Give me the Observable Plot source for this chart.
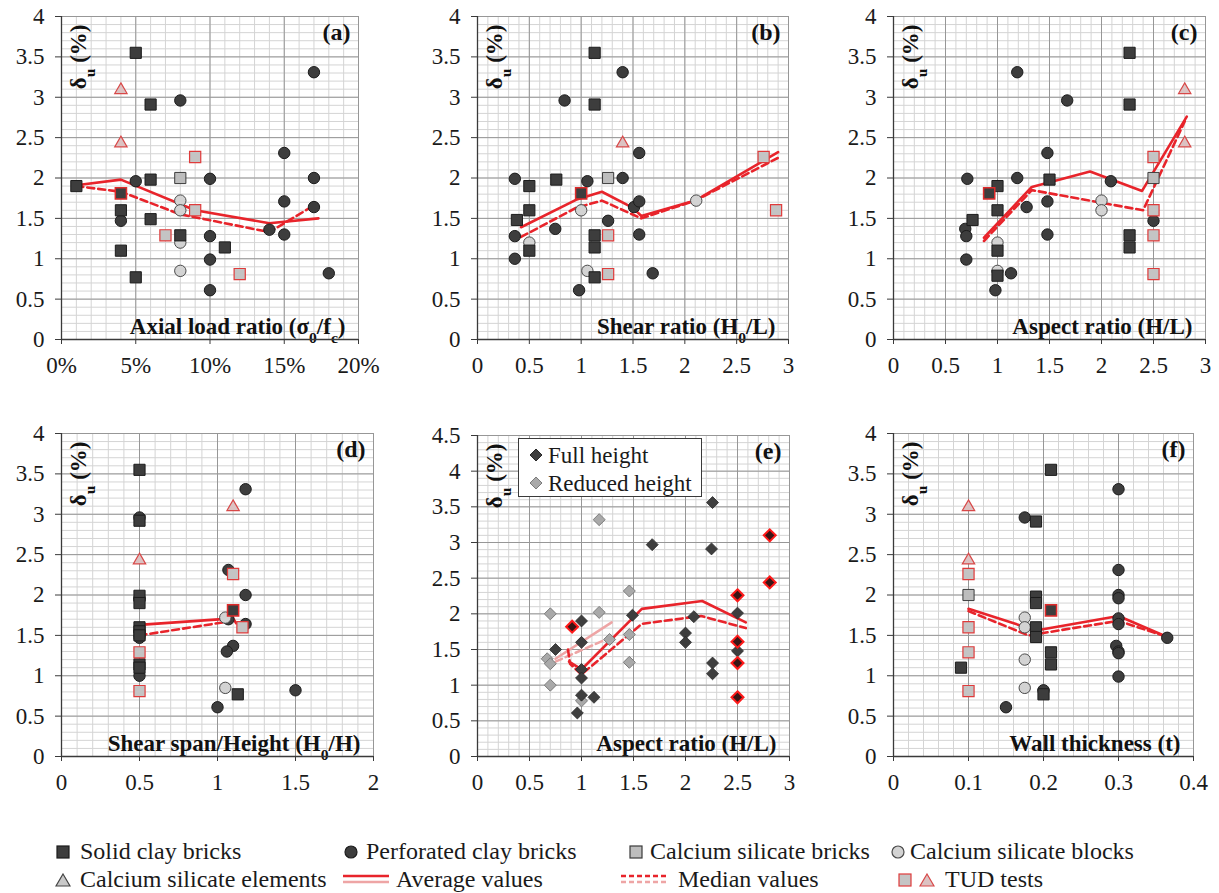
<!DOCTYPE html>
<html><head><meta charset="utf-8">
<script src="https://cdn.jsdelivr.net/npm/d3@7"></script>
<script src="https://cdn.jsdelivr.net/npm/@observablehq/plot@0.6"></script>
<style>
html,body{margin:0;padding:0;background:#fff;}
#root{position:relative;width:1219px;height:893px;overflow:hidden;font-family:"Liberation Serif","Tinos","DejaVu Serif","Times New Roman",Times,serif;color:#1a1a1a;}
.panel{position:absolute;}
.panel svg{overflow:visible;max-width:none !important;}
.leg{position:absolute;font-size:24px;line-height:26px;white-space:nowrap;}
.sw{position:absolute;display:block;}
.elegend{position:absolute;left:518px;top:438px;width:182px;height:57px;border:1.5px solid #3a3a3a;background:#fff;font-size:23px;}
.elegend span{position:absolute;left:29px;line-height:24px;white-space:nowrap;}
</style></head>
<body><div id="root"></div>
<script>
// ---------------- DATA ----------------
const yTicks4 = [0, 0.5, 1, 1.5, 2, 2.5, 3, 3.5, 4];
const yTicks45 = [0, 0.5, 1, 1.5, 2, 2.5, 3, 3.5, 4, 4.5];
const xTicksA = [0, 5, 10, 15, 20];
const xTicks3 = [0, 0.5, 1, 1.5, 2, 2.5, 3];
const xTicks2 = [0, 0.5, 1, 1.5, 2];
const xTicksF = [0, 0.1, 0.2, 0.3, 0.4];

// (a) Axial load ratio (%)
const a_perf = [[4,1.47],[5,1.96],[8,2.96],[10,1.99],[10,1.28],[10,0.99],[10,0.61],[14,1.36],[15,2.31],[15,1.71],[15,1.3],[17,3.31],[17,2.0],[17,1.64],[18,0.82]];
const a_csBlocks = [[8,1.72],[8,1.6],[8,1.2],[8,0.85]];
const a_solid = [[1,1.9],[4,1.6],[4,1.1],[5,3.55],[5,0.77],[6,2.91],[6,1.98],[6,1.49],[8,1.29],[11,1.14]];
const a_csBricks = [[8,2.0]];
const a_tudSq = [[7,1.29],[9,2.26],[9,1.6],[12,0.81]];
const a_tudSolid = [[4,1.81]];
const a_tudTri = [[4,3.09],[4,2.43]];
const a_avg = [[1,1.91],[4,1.98],[9,1.6],[14,1.44],[17.3,1.5]];
const a_med = [[1,1.9],[4,1.83],[8,1.55],[14,1.33],[17,1.66]];

// (b) Shear ratio
const b_perf = [[0.36,1.99],[0.36,1.28],[0.36,1.0],[0.84,2.96],[0.75,1.37],[1.06,1.96],[0.98,0.61],[1.26,1.47],[1.4,3.31],[1.4,2.0],[1.51,1.64],[1.56,2.31],[1.56,1.71],[1.56,1.3],[1.69,0.82]];
const b_csBlocks = [[0.5,1.2],[1.0,1.6],[1.06,0.85],[2.11,1.72]];
const b_solid = [[0.38,1.48],[0.5,1.9],[0.5,1.6],[0.5,1.1],[0.76,1.98],[1.13,3.55],[1.13,2.91],[1.13,1.29],[1.13,1.14],[1.13,0.77]];
const b_csBricks = [[1.26,2.0]];
const b_tudSq = [[1.26,1.29],[1.26,0.81],[2.76,2.26],[2.88,1.6]];
const b_tudSolid = [[1.0,1.81]];
const b_tudTri = [[1.4,2.43]];
const b_avg = [[0.42,1.39],[0.95,1.73],[1.2,1.83],[1.5,1.63],[1.58,1.53],[2.1,1.72],[2.9,2.32]];
const b_med = [[0.42,1.27],[0.95,1.63],[1.2,1.72],[1.58,1.5],[2.1,1.72],[2.9,2.25]];

// (c) Aspect ratio
const c_perf = [[0.71,1.99],[0.69,1.37],[0.7,1.28],[0.7,0.99],[0.98,0.61],[1.19,3.31],[1.19,2.0],[1.13,0.82],[1.28,1.64],[1.48,2.31],[1.48,1.71],[1.48,1.3],[1.67,2.96],[2.09,1.96],[2.5,1.47]];
const c_csBlocks = [[1.0,1.2],[1.0,0.85],[2.0,1.72],[2.0,1.6]];
const c_solid = [[1.0,1.9],[1.0,1.6],[1.0,1.1],[1.0,0.79],[0.76,1.48],[1.5,1.98],[2.27,3.55],[2.27,2.91],[2.27,1.29],[2.27,1.14]];
const c_csBricks = [[2.5,2.0]];
const c_tudSq = [[2.5,2.26],[2.5,1.6],[2.5,1.29],[2.5,0.81]];
const c_tudSolid = [[0.92,1.81]];
const c_tudTri = [[2.8,3.09],[2.8,2.43]];
const c_avg = [[0.87,1.26],[1.33,1.89],[1.89,2.08],[2.39,1.84],[2.82,2.76]];
const c_med = [[0.87,1.22],[1.33,1.85],[2.4,1.6],[2.8,2.7]];

// (d) Shear span / Height
const d_perf = [[0.5,2.96],[0.5,1.96],[0.5,1.47],[0.5,1.0],[1.07,2.31],[1.18,3.31],[1.18,2.0],[1.18,1.64],[1.07,1.7],[1.1,1.37],[1.06,1.3],[1.0,0.61],[1.5,0.82]];
const d_csBlocks = [[1.05,1.72],[1.05,0.85]];
const d_solid = [[0.5,3.55],[0.5,2.92],[0.5,1.99],[0.5,1.9],[0.5,1.6],[0.5,1.55],[0.5,1.5],[0.5,1.14],[0.5,1.1],[1.13,0.77]];
const d_csBricks = [];
const d_tudSq = [[0.5,1.29],[0.5,0.81],[1.1,2.26],[1.16,1.6]];
const d_tudSolid = [[1.1,1.81]];
const d_tudTri = [[0.5,2.43],[1.1,3.09]];
const d_avg = [[0.5,1.63],[1.1,1.71],[1.12,1.65]];
const d_med = [[0.5,1.5],[1.1,1.68]];

// (e) Aspect ratio, full vs reduced height
const e_full = [[0.75,1.5],[1.0,1.9],[1.0,1.6],[1.0,1.22],[1.0,1.1],[1.0,0.86],[0.96,0.61],[1.12,0.83],[1.49,1.98],[1.68,2.97],[2.0,1.73],[2.0,1.6],[2.08,1.96],[2.26,3.56],[2.25,2.91],[2.26,1.31],[2.26,1.16],[2.5,2.01],[2.5,1.48]];
const e_reduced = [[0.7,2.0],[0.67,1.37],[0.7,1.3],[0.7,1.0],[1.0,0.78],[1.17,3.32],[1.17,2.02],[1.27,1.64],[1.46,2.32],[1.46,1.71],[1.46,1.32]];
const e_tud = [[0.91,1.82],[2.5,2.26],[2.5,1.61],[2.5,1.31],[2.5,0.83],[2.81,3.1],[2.81,2.44]];
const e_avg = [[0.88,1.33],[1.0,1.22],[1.58,2.07],[2.16,2.18],[2.58,1.88]];
const e_med = [[0.87,1.5],[0.89,1.3],[1.0,1.15],[1.58,1.86],[2.15,1.97],[2.58,1.8]];
const e_avgReduced = [[0.75,1.37],[1.29,1.88]];
const e_medReduced = [[0.75,1.33],[1.28,1.67]];

// (f) Wall thickness
const f_perf = [[0.175,2.96],[0.15,0.61],[0.2,0.82],[0.3,3.31],[0.3,2.31],[0.3,2.0],[0.3,1.96],[0.3,1.71],[0.3,1.64],[0.297,1.37],[0.3,1.3],[0.3,1.28],[0.3,0.99],[0.365,1.47]];
const f_csBlocks = [[0.175,1.72],[0.175,1.6],[0.175,1.2],[0.175,0.85]];
const f_solid = [[0.09,1.1],[0.19,2.91],[0.19,1.98],[0.19,1.9],[0.19,1.6],[0.19,1.48],[0.21,3.55],[0.21,1.29],[0.21,1.14],[0.2,0.77]];
const f_csBricks = [[0.1,2.0]];
const f_tudSq = [[0.1,2.26],[0.1,1.6],[0.1,1.29],[0.1,0.81]];
const f_tudSolid = [[0.21,1.81]];
const f_tudTri = [[0.1,3.09],[0.1,2.43]];
const f_avg = [[0.1,1.83],[0.19,1.56],[0.3,1.74],[0.365,1.48]];
const f_med = [[0.1,1.8],[0.18,1.5],[0.3,1.68],[0.365,1.48]];

// ---------------- STYLE ----------------
const FONT = '"Liberation Serif","Tinos","DejaVu Serif","Times New Roman",Times,serif';
const RED = "#e8242b", PINK = "#eea5a5";
const DARK = "#3d3d3d", DARKS = "#1c1c1c";
const NS = "http://www.w3.org/2000/svg";
const X = d => d[0], Y = d => d[1];

const S = {
  perf:     {symbol:"circle", r:5.7, fill:DARK, stroke:DARKS, strokeWidth:1},
  csBlocks: {symbol:"circle", r:5.7, fill:"#d3d3d3", stroke:"#4a4a4a", strokeWidth:1},
  solid:    {symbol:"square", r:6.3, fill:DARK, stroke:DARKS, strokeWidth:1},
  csBricks: {symbol:"square", r:6.3, fill:"#bdbdbd", stroke:"#3a3a3a", strokeWidth:1},
  tudSq:    {symbol:"square", r:6.3, fill:"#c4c4c4", stroke:"#df3b3b", strokeWidth:1.2},
  tudSolid: {symbol:"square", r:6.3, fill:DARK, stroke:"#e02a2a", strokeWidth:1.5},
  tudTri:   {symbol:"triangle", r:4.6, fill:"#dcc2c2", stroke:"#d84848", strokeWidth:1.2},
  full:     {symbol:"diamond2", r:5.4, fill:"#3e3e3e", stroke:"#2a2a2a", strokeWidth:0.8},
  reduced:  {symbol:"diamond2", r:5.4, fill:"#a9a9a9", stroke:"#7c7c7c", strokeWidth:1},
  tudDia:   {symbol:"diamond2", r:5.4, fill:"#3a1616", stroke:"#ff1a1a", strokeWidth:2}
};

const panels = [
  {id:"a", L:0,   T:0,   ml:61, mt:16, pw:297, ph:323, xd:[0,20], yd:[0,4], xt:xTicksA, yt:yTicks4, minor:1, fmt:d=>d+"%",
   xlabel:"Axial load ratio (σ_0/f_c)", letter:"(a)",
   dots:[["perf",a_perf],["csBlocks",a_csBlocks],["solid",a_solid],["csBricks",a_csBricks],["tudSq",a_tudSq],["tudSolid",a_tudSolid],["tudTri",a_tudTri]],
   avg:a_avg, med:a_med},
  {id:"b", L:400, T:0,   ml:77, mt:16, pw:311, ph:323, xd:[0,3], yd:[0,4], xt:xTicks3, yt:yTicks4, minor:0.1, fmt:d=>String(d),
   xlabel:"Shear ratio (H_0/L)", letter:"(b)",
   dots:[["perf",b_perf],["csBlocks",b_csBlocks],["solid",b_solid],["csBricks",b_csBricks],["tudSq",b_tudSq],["tudSolid",b_tudSolid],["tudTri",b_tudTri]],
   avg:b_avg, med:b_med},
  {id:"c", L:810, T:0,   ml:83, mt:16, pw:312, ph:323, xd:[0,3], yd:[0,4], xt:xTicks3, yt:yTicks4, minor:0.1, fmt:d=>String(d),
   xlabel:"Aspect ratio (H/L)", letter:"(c)",
   dots:[["perf",c_perf],["csBlocks",c_csBlocks],["solid",c_solid],["csBricks",c_csBricks],["tudSq",c_tudSq],["tudSolid",c_tudSolid],["tudTri",c_tudTri]],
   avg:c_avg, med:c_med},
  {id:"d", L:0,   T:400, ml:61, mt:33, pw:312, ph:323, xd:[0,2], yd:[0,4], xt:xTicks2, yt:yTicks4, minor:0.1, fmt:d=>String(d),
   xlabel:"Shear span/Height (H_0/H)", letter:"(d)",
   dots:[["perf",d_perf],["csBlocks",d_csBlocks],["solid",d_solid],["csBricks",d_csBricks],["tudSq",d_tudSq],["tudSolid",d_tudSolid],["tudTri",d_tudTri]],
   avg:d_avg, med:d_med},
  {id:"e", L:400, T:400, ml:77, mt:35, pw:312, ph:321, xd:[0,3], yd:[0,4.5], xt:xTicks3, yt:yTicks45, minor:0.1, fmt:d=>String(d),
   xlabel:"Aspect ratio (H/L)", letter:"(e)",
   dots:[["reduced",e_reduced],["full",e_full],["tudDia",e_tud]],
   avg:e_avg, med:e_med, avg2:e_avgReduced, med2:e_medReduced},
  {id:"f", L:810, T:400, ml:83, mt:33, pw:300, ph:323, xd:[0,0.4], yd:[0,4], xt:xTicksF, yt:yTicks4, minor:0.02, fmt:d=>String(d),
   xlabel:"Wall thickness (t)", letter:"(f)",
   dots:[["perf",f_perf],["csBlocks",f_csBlocks],["solid",f_solid],["csBricks",f_csBricks],["tudSq",f_tudSq],["tudSolid",f_tudSolid],["tudTri",f_tudTri]],
   avg:f_avg, med:f_med}
];

function subscriptify(t) {
  const s = t.textContent;
  if (!s.includes("_")) return;
  t.textContent = "";
  s.split(/_(.)/).forEach((part, i) => {
    if (!part) return;
    const ts = document.createElementNS(NS, "tspan");
    ts.textContent = part;
    if (i % 2 === 1) { ts.setAttribute("baseline-shift", "sub"); ts.setAttribute("font-size", "68%"); }
    t.appendChild(ts);
  });
}

function addBox(svg, label, corner, p) {
  const g = svg.querySelector(`g[aria-label="${label}"]`);
  if (!g) return;
  const t = g.querySelector("text");
  const sb = svg.getBoundingClientRect(), tb = t.getBoundingClientRect();
  const l = tb.left - sb.left, r = tb.right - sb.left, tp = tb.top - sb.top, bt = tb.bottom - sb.top;
  const fl = p.ml, fr = p.ml + p.pw, ft = p.mt, fb = p.mt + p.ph;
  let x0, x1, y0, y1;
  if (corner === "br") { x0 = l - 6; x1 = fr; y0 = tp + 3; y1 = fb; }
  else if (corner === "tl") { x0 = fl; x1 = r + 5; y0 = ft; y1 = bt + 4; }
  else { x0 = l - 6; x1 = fr; y0 = ft; y1 = bt + 2; }
  const rect = document.createElementNS(NS, "rect");
  rect.setAttribute("x", x0); rect.setAttribute("y", y0);
  rect.setAttribute("width", x1 - x0); rect.setAttribute("height", y1 - y0);
  rect.setAttribute("fill", "#fff");
  svg.insertBefore(rect, g);
}

const root = document.getElementById("root");

for (const p of panels) {
  const mr = 30, mb = 45;
  const W = p.ml + p.pw + mr, H = p.mt + p.ph + mb;
  const minorX = d3.range(0, Math.round((p.xd[1] - p.xd[0]) / p.minor) + 1).map(i => p.xd[0] + i * p.minor);
  const minorY = d3.range(0, Math.round(p.yd[1] / 0.1) + 1).map(i => i * 0.1);
  const lab = {fontFamily: FONT, fontSize: 23, fontWeight: "bold", fill: "#111", text: d => d};
  const marks = [
    Plot.ruleX(minorX, {stroke: "#d4d4d4", strokeWidth: 1}),
    Plot.ruleY(minorY, {stroke: "#d4d4d4", strokeWidth: 1}),
    Plot.ruleX(p.xt, {stroke: "#979797", strokeWidth: 1}),
    Plot.ruleY(p.yt, {stroke: "#979797", strokeWidth: 1}),
    Plot.text([p.xlabel], {...lab, ariaLabel: "xlabel", frameAnchor: "bottom-right", textAnchor: "end", lineAnchor: "bottom", dx: -13, dy: -6}),
    Plot.text(["δ_u (%)"], {...lab, ariaLabel: "ylabel", frameAnchor: "top-left", rotate: -90, textAnchor: "end", lineAnchor: "middle", dx: 17, dy: 8}),
    Plot.text([p.letter], {...lab, fontSize: 24, ariaLabel: "letter", frameAnchor: "top-right", textAnchor: "end", lineAnchor: "top", dx: -8, dy: 6}),
    Plot.frame({stroke: "#979797"}),
    Plot.ruleX([p.xd[0]], {stroke: "#3a3a3a", strokeWidth: 1.3}),
    Plot.ruleY([0], {stroke: "#3a3a3a", strokeWidth: 1.3})
  ];
  if (p.avg2) {
    marks.push(Plot.line(p.avg2, {x: X, y: Y, stroke: PINK, strokeWidth: 2.5}));
    marks.push(Plot.line(p.med2, {x: X, y: Y, stroke: PINK, strokeWidth: 2.5, strokeDasharray: "7,4"}));
  }
  marks.push(Plot.line(p.avg, {x: X, y: Y, stroke: RED, strokeWidth: 2.6}));
  marks.push(Plot.line(p.med, {x: X, y: Y, stroke: RED, strokeWidth: 2.6, strokeDasharray: "7,4"}));
  for (const [k, data] of p.dots) {
    if (data.length) marks.push(Plot.dot(data, {x: X, y: Y, ...S[k]}));
  }
  marks.push(Plot.axisX(p.xt, {tickSize: 5, tickPadding: 12, tickFormat: p.fmt, label: null, fontSize: 23, fontFamily: FONT, stroke: "#3a3a3a"}));
  marks.push(Plot.axisY(p.yt, {tickSize: 6, tickPadding: 11, tickFormat: d => String(d), label: null, fontSize: 23, fontFamily: FONT, stroke: "#3a3a3a"}));

  const svg = Plot.plot({
    width: W, height: H,
    marginLeft: p.ml, marginTop: p.mt, marginRight: mr, marginBottom: mb,
    x: {domain: p.xd}, y: {domain: p.yd},
    style: {fontSize: "23px", color: "#1a1a1a", background: "transparent", overflow: "visible", maxWidth: "none"},
    marks
  });
  svg.style.fontFamily = FONT;
  svg.style.maxWidth = "none";
  svg.style.width = W + "px";
  svg.style.height = H + "px";
  const div = document.createElement("div");
  div.className = "panel";
  div.style.left = p.L + "px"; div.style.top = p.T + "px";
  div.style.width = W + "px"; div.style.height = H + "px";
  div.appendChild(svg);
  root.appendChild(div);
  svg.querySelectorAll("text").forEach(t => { t.style.fontFamily = FONT; subscriptify(t); });
  addBox(svg, "xlabel", "br", p);
  addBox(svg, "ylabel", "tl", p);
  addBox(svg, "letter", "tr", p);
}

// legend inside panel (e)
const diamond = (fill, stroke) => `<svg class="sw" width="14" height="14" style="left:10px;top:-1px"><path d="M7 1 L13 7 L7 13 L1 7 Z" fill="${fill}" stroke="${stroke}"/></svg>`;
const eleg = document.createElement("div");
eleg.className = "elegend";
eleg.innerHTML =
  `<div style="position:absolute;top:10px;left:0;width:100%;height:14px">${diamond("#3e3e3e","#2a2a2a")}</div><span style="top:5px">Full height</span>` +
  `<div style="position:absolute;top:38px;left:0;width:100%;height:14px">${diamond("#a9a9a9","#7c7c7c")}</div><span style="top:33px">Reduced height</span>`;
root.appendChild(eleg);

// bottom legend
const sq = (f, s) => `<svg class="sw" width="14" height="14"><rect x="1" y="1" width="12" height="12" fill="${f}" stroke="${s}" stroke-width="1.2"/></svg>`;
const ci = (f, s) => `<svg class="sw" width="14" height="14"><circle cx="7" cy="7" r="6" fill="${f}" stroke="${s}" stroke-width="1.2"/></svg>`;
const tri = (f, s) => `<svg class="sw" width="16" height="14"><path d="M8 1 L15 13 L1 13 Z" fill="${f}" stroke="${s}" stroke-width="1.2"/></svg>`;
const lines = dash => `<svg class="sw" width="48" height="12"><line x1="1" x2="47" y1="3" y2="3" stroke="${RED}" stroke-width="2.6" ${dash ? 'stroke-dasharray="5,3"' : ""}/><line x1="1" x2="47" y1="9" y2="9" stroke="${PINK}" stroke-width="2.6" ${dash ? 'stroke-dasharray="5,3"' : ""}/></svg>`;
const legendItems = [
  {sw: sq(DARK, DARKS), sx: 56, text: "Solid clay bricks", tx: 80, row: 0},
  {sw: ci(DARK, DARKS), sx: 344, text: "Perforated clay bricks", tx: 366, row: 0},
  {sw: sq("#bdbdbd", "#3a3a3a"), sx: 629, text: "Calcium silicate bricks", tx: 650, row: 0},
  {sw: ci("#d3d3d3", "#4a4a4a"), sx: 891, text: "Calcium silicate blocks", tx: 910, row: 0},
  {sw: tri("#c9c9c9", "#444"), sx: 55, text: "Calcium silicate elements", tx: 80, row: 1},
  {sw: lines(false), sx: 342, text: "Average values", tx: 396, row: 1},
  {sw: lines(true), sx: 620, text: "Median values", tx: 678, row: 1},
  {sw: sq("#c4c4c4", "#df3b3b"), sx: 898, text: "", tx: 0, row: 1},
  {sw: tri("#dcc2c2", "#d84848"), sx: 919, text: "TUD tests", tx: 945, row: 1}
];
const rowY = [852, 880];
for (const it of legendItems) {
  const cy = rowY[it.row];
  const w = document.createElement("div");
  w.style.position = "absolute"; w.style.left = it.sx + "px"; w.style.top = (cy - 7) + "px";
  w.innerHTML = it.sw;
  w.firstChild.style.position = "static";
  root.appendChild(w);
  if (it.text) {
    const t = document.createElement("div");
    t.className = "leg"; t.style.left = it.tx + "px"; t.style.top = (cy - 14) + "px";
    t.textContent = it.text;
    root.appendChild(t);
  }
}
</script>
</body></html>
